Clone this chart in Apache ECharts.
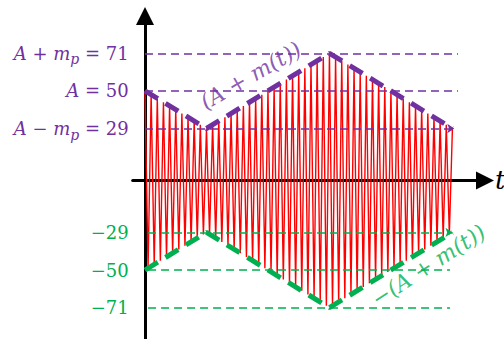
<!DOCTYPE html>
<html><head><meta charset="utf-8">
<script src="https://cdn.jsdelivr.net/npm/echarts@6/dist/echarts.min.js"></script>
<style>html,body{margin:0;padding:0;background:#fff}#c{width:504px;height:339px}</style>
</head><body><div id="c"></div>
<script>
// carrier peaks, one per carrier cycle (cycle k: top at t=k, bottom at t=k+0.5)
const carrierTop = [50, 47.9, 45.8, 43.7, 41.6, 39.5, 37.4, 35.3, 33.2, 31.1, 29, 31.1, 33.2, 35.3, 37.4, 39.5, 41.6, 43.7, 45.8, 47.9, 50, 52.1, 54.2, 56.3, 58.4, 60.5, 62.6, 64.7, 66.8, 68.9, 71, 68.9, 66.8, 64.7, 62.6, 60.5, 58.4, 56.3, 54.2, 52.1, 50, 47.9, 45.8, 43.7, 41.6, 39.5, 37.4, 35.3, 33.2, 31.1, 29];
const carrierBottom = [-49, -46.9, -44.8, -42.7, -40.6, -38.5, -36.4, -34.3, -32.2, -30.1, -30.1, -32.2, -34.3, -36.4, -38.5, -40.6, -42.7, -44.8, -46.9, -49, -51.1, -53.2, -55.3, -57.4, -59.5, -61.6, -63.7, -65.8, -67.9, -70, -70, -67.9, -65.8, -63.7, -61.6, -59.5, -57.4, -55.3, -53.2, -51.1, -49, -46.9, -44.8, -42.7, -40.6, -38.5, -36.4, -34.3, -32.2, -30.1];
// envelope breakpoints
const envT = [0, 10, 30, 50];
const envUpper = [50, 29, 71, 29];
const envLower = [-50, -29, -71, -29];
// reference levels and their labels
const upperLevels = [71, 50, 29];
const lowerLevels = [-29, -50, -71];
const levelLabels = {
  '71': '{pi|A} {pn|+} {pi|m}{ps|p} {pn|= 71}',
  '50': '{pi|A} {pn|= 50}',
  '29': '{pi|A} {pn|−} {pi|m}{ps|p} {pn|= 29}',
  '-29': '{g|−29}',
  '-50': '{g|−50}',
  '-71': '{g|−71}'
};
const upperEnvText = '(A + m(t))';
const lowerEnvText = '−(A + m(t))';
const axisName = 't';

const PURPLE = '#7030A0', GREEN = '#00B050', SERIF = 'DejaVu Serif';

const carrierData = [];
for (let k = 0; k < carrierTop.length; k++) {
  carrierData.push([k, carrierTop[k]]);
  if (k < carrierBottom.length) carrierData.push([k + 0.5, carrierBottom[k]]);
}
const upperEnv = envT.map((t, i) => [t, envUpper[i]]);
const lowerEnv = envT.map((t, i) => [t, envLower[i]]);

function level(v, t0, t1, color, arrow) {
  return [{coord: [t0, v], symbol: 'none'},
          {coord: [t1, v], symbol: arrow ? 'arrow' : 'none', symbolSize: 7,
           lineStyle: {color: color}}];
}

const chart = echarts.init(document.getElementById('c'), null, {renderer: 'svg'});
chart.setOption({
  animation: false,
  grid: {left: 132.7, right: 19, top: 16, bottom: 0, containLabel: false, outerBoundsMode: 'none'},
  xAxis: {
    type: 'value', min: -2, max: 55.3,
    axisLine: {onZero: true, lineStyle: {color: '#000', width: 3},
               symbol: ['none', 'triangle'], symbolSize: [18, 18]},
    axisTick: {show: false}, axisLabel: {show: false}, splitLine: {show: false},
    name: axisName, nameLocation: 'end', nameGap: 10,
    nameTextStyle: {fontFamily: SERIF, fontStyle: 'italic', fontSize: 26, color: '#000', verticalAlign: 'middle'}
  },
  yAxis: {
    type: 'value', min: -88.5, max: 91.8,
    axisLine: {onZero: true, lineStyle: {color: '#000', width: 3},
               symbol: ['none', 'triangle'], symbolSize: [18, 18]},
    axisTick: {show: false}, splitLine: {show: false},
    axisLabel: {
      show: true, margin: 4, customValues: upperLevels.concat(lowerLevels),
      fontFamily: SERIF, fontSize: 18, color: PURPLE,
      formatter: v => levelLabels[String(v)] || '',
      rich: {
        pi: {fontFamily: SERIF, fontStyle: 'italic', fontSize: 18, color: PURPLE, lineHeight: 26},
        pn: {fontFamily: SERIF, fontSize: 18, color: PURPLE, lineHeight: 26},
        ps: {fontFamily: SERIF, fontStyle: 'italic', fontSize: 14, color: PURPLE, lineHeight: 26, verticalAlign: 'bottom'},
        g: {fontFamily: SERIF, fontSize: 18, color: GREEN, lineHeight: 26}
      }
    }
  },
  series: [
    {type: 'line', data: carrierData, showSymbol: false, z: 2,
     lineStyle: {color: '#FF0000', width: 1.4}},
    {type: 'line', data: upperEnv, showSymbol: false, z: 5,
     lineStyle: {color: PURPLE, width: 5, type: [15, 9], cap: 'butt'},
     markLine: {silent: true, symbol: 'none', label: {show: false},
       lineStyle: {color: PURPLE, width: 1.5, type: [8, 5]},
       data: [level(upperLevels[0], 0, 50.9, PURPLE, false),
              level(upperLevels[1], 0, 50.9, PURPLE, false),
              level(upperLevels[2], 0, 50.3, PURPLE, true)]}},
    {type: 'line', data: lowerEnv, showSymbol: false, z: 5,
     lineStyle: {color: GREEN, width: 5, type: [15, 9], cap: 'butt'},
     markLine: {silent: true, symbol: 'none', label: {show: false},
       lineStyle: {color: GREEN, width: 1.5, type: [8, 5]},
       data: [level(lowerLevels[0], 0.5, 50, GREEN, true),
              level(lowerLevels[1], 0.5, 49.6, GREEN, false),
              level(lowerLevels[2], 0.5, 49.6, GREEN, false)]}},
    {type: 'scatter', symbolSize: 0, z: 6, silent: true,
     data: [{value: [17.2, 58.5], label: {formatter: upperEnvText, color: PURPLE, rotate: 30}},
            {value: [46.1, -47.5], label: {formatter: lowerEnvText, color: GREEN, rotate: 33}}],
     label: {show: true, position: 'inside', fontFamily: SERIF, fontStyle: 'italic', fontSize: 22}}
  ]
});
</script></body></html>
